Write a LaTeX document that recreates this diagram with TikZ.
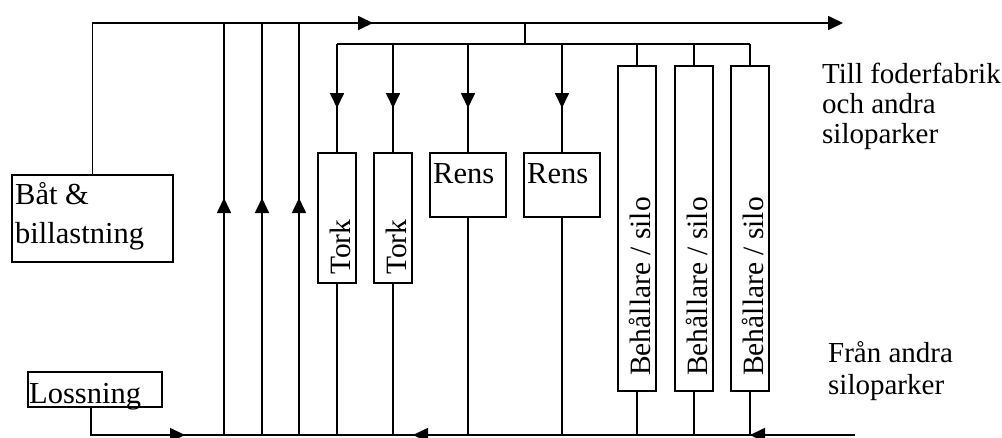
\documentclass[tikz,border=0pt]{standalone}
\usepackage{fontspec}
\setmainfont{Liberation Serif}
\usetikzlibrary{arrows.meta}
\begin{document}
\begin{tikzpicture}[x=1pt,y=-1pt,
  ln/.style={line width=1.7pt},
  arr/.style={line width=1.7pt,-{Triangle[length=15pt,width=14pt]}},
  box/.style={draw,line width=1.7pt,inner sep=0pt,outer sep=0pt,anchor=north west},
  lbl/.style={inner sep=0pt,anchor=base west,font=\fontsize{30.5}{34}\selectfont},
  rlbl/.style={inner sep=0pt,anchor=base west,rotate=90,font=\fontsize{29.5}{33}\selectfont},
  side/.style={inner sep=0pt,anchor=base west,font=\fontsize{29}{32}\selectfont}]
\useasboundingbox (0,0) rectangle (1002,437);
% boxes
\node[box,minimum width=161pt,minimum height=87pt] (bat) at (12,175) {};
\node[box,minimum width=134pt,minimum height=35pt] (loss) at (28,372) {};
\node[box,minimum width=38pt,minimum height=130pt] (tork1) at (318,153) {};
\node[box,minimum width=38pt,minimum height=130pt] (tork2) at (374,153) {};
\node[box,minimum width=76pt,minimum height=64pt] (rens1) at (430,153) {};
\node[box,minimum width=76pt,minimum height=64pt] (rens2) at (524,153) {};
\node[box,minimum width=38pt,minimum height=325pt] (silo1) at (618,66) {};
\node[box,minimum width=38pt,minimum height=325pt] (silo2) at (675,66) {};
\node[box,minimum width=38pt,minimum height=325pt] (silo3) at (731,66) {};
% texts
\node[lbl] (batA) at (15,204) {Båt \&};
\node[lbl] (batB) at (15,243) {billastning};
\node[lbl] (lossT) at (29,403) {Lossning};
\node[lbl] (rens1T) at (433,183) {Rens};
\node[lbl] (rens2T) at (527,183) {Rens};
\node[rlbl] (tork1T) at (350,275) {Tork};
\node[rlbl] (tork2T) at (406,275) {Tork};
\node[rlbl] (silo1T) at (650,376) {Behållare / silo};
\node[rlbl] (silo2T) at (707,376) {Behållare / silo};
\node[rlbl] (silo3T) at (763,376) {Behållare / silo};
\node[side] (tillA) at (822,83) {Till foderfabrik};
\node[side] (tillB) at (822,113) {och andra};
\node[side] (tillC) at (822,143) {siloparker};
\node[side] (franA) at (828,362) {Från andra};
\node[side] (franB) at (828,394) {siloparker};
% bus coordinates
\coordinate (topL) at (93,23);
\coordinate (topR) at (843,23);
\coordinate (junc) at (525,23);
\coordinate (midL) at (337,44);
\coordinate (midR) at (750,44);
\coordinate (lossB) at (91,407);
\coordinate (botL) at (91,435);
\coordinate (botR) at (855,435);
% top bus
\draw[ln] (bat.north) |- (topL);
\draw[arr] (topL) -- (topR);
\draw[arr] (topL) -- (373,23);
% verticals up from bottom bus to top bus
\foreach \x in {224,262,299}{
  \draw[ln] (\x,435) -- (\x,23);
  \draw[arr] (\x,213) -- (\x,198);
}
% second (distribution) line
\draw[ln] (junc) -- (525,44);
\draw[ln] (midL) -- (midR);
\foreach \n in {tork1,tork2,rens1,rens2}{
  \draw[ln] (midL -| \n.north) -- (\n.north);
  \draw[arr] (\n.north |- 0,93) -- (\n.north |- 0,108);
}
\foreach \n in {silo1,silo2,silo3}{
  \draw[ln] (midL -| \n.north) -- (\n.north);
}
% bottom bus
\draw[ln] (loss.south -| lossB) -- (botL) -- (botR);
\foreach \n in {tork1,tork2,rens1,rens2,silo1,silo2,silo3}{
  \draw[ln] (\n.south) -- (botL -| \n.south);
}
\draw[arr] (171,435) -- (185,435);
\draw[arr] (428,435) -- (413,435);
\draw[arr] (766,435) -- (750,435);
\end{tikzpicture}
\end{document}
